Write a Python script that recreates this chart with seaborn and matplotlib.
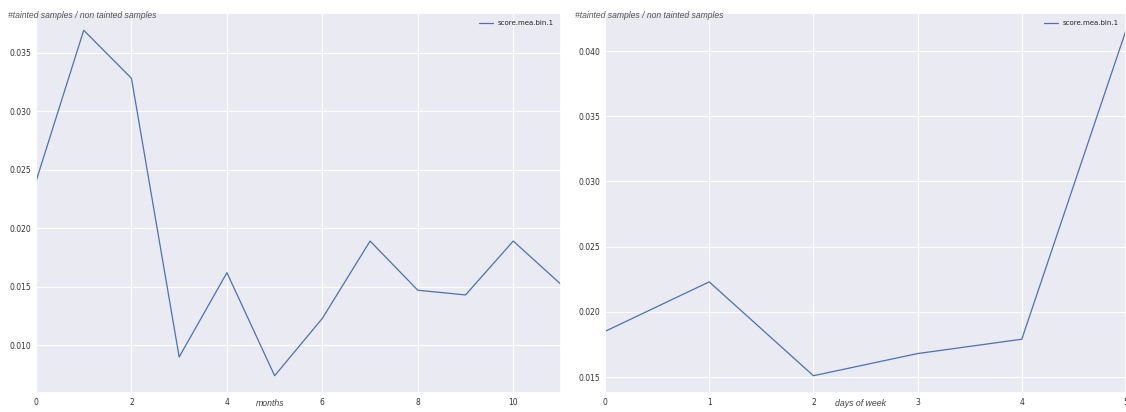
import matplotlib
matplotlib.use("Agg")
import matplotlib.pyplot as plt
import seaborn as sns
import pandas as pd

# ratio of tainted to non-tainted samples, by month and by weekday
months = [0, 1, 2, 3, 4, 5, 6, 7, 8, 9, 10, 11]
month_ratio = [0.0240, 0.0369, 0.0328, 0.0090, 0.0162, 0.0074,
               0.0123, 0.0189, 0.0147, 0.0143, 0.0189, 0.0152]
weekdays = [0, 1, 2, 3, 4, 5]
weekday_ratio = [0.0185, 0.0223, 0.0151, 0.0168, 0.0179, 0.0416]
series_name = "score.mea.bin.1"
ylabel = "#tainted samples / non tainted samples"

sns.set_theme(style="darkgrid", rc={"grid.linewidth": 0.8})
plt.rcParams["font.family"] = ["DejaVu Sans"]

W, H = 1126, 412
fig = plt.figure(figsize=(W / 100, H / 100), dpi=100)
ax1 = fig.add_axes([36 / W, 19 / H, (561 - 36) / W, 380 / H])
ax2 = fig.add_axes([605 / W, 19 / H, (1126 - 605) / W, 380 / H])

df_m = pd.DataFrame({"x": months, series_name: month_ratio})
df_d = pd.DataFrame({"x": weekdays, series_name: weekday_ratio})

for ax, df, xlab, xpos, xmax, txt_x in [
    (ax1, df_m, "months", 0.446, 11, 8),
    (ax2, df_d, "days of week", 0.49, 5, 575),
]:
    sns.lineplot(data=df, x="x", y=series_name, ax=ax, color="#4c72b0",
                 linewidth=0.9, label=series_name)
    ax.set_xlim(0, xmax)
    ax.tick_params(labelsize=5.5, colors="#333333", length=0, pad=3.5)
    ax.set_ylabel("")
    ax.set_xlabel(xlab, fontsize=6.3, style="italic", color="#444444",
                  family=["Liberation Sans"])
    ax.xaxis.set_label_coords(xpos, -0.027)
    ax.xaxis.label.set_va("center")
    fig.text(txt_x / W, 1 - 16 / H, ylabel, fontsize=6.2, style="italic",
             color="#555555", va="center", ha="left",
             family=["Liberation Sans"])
    ax.legend(loc="upper right", frameon=False, fontsize=5,
              handlelength=2.0, handletextpad=0.7, borderaxespad=0.6)

ax1.set_xticks([0, 2, 4, 6, 8, 10])
ax2.set_xticks([0, 1, 2, 3, 4, 5])

fig.savefig("out.png", dpi=100)
